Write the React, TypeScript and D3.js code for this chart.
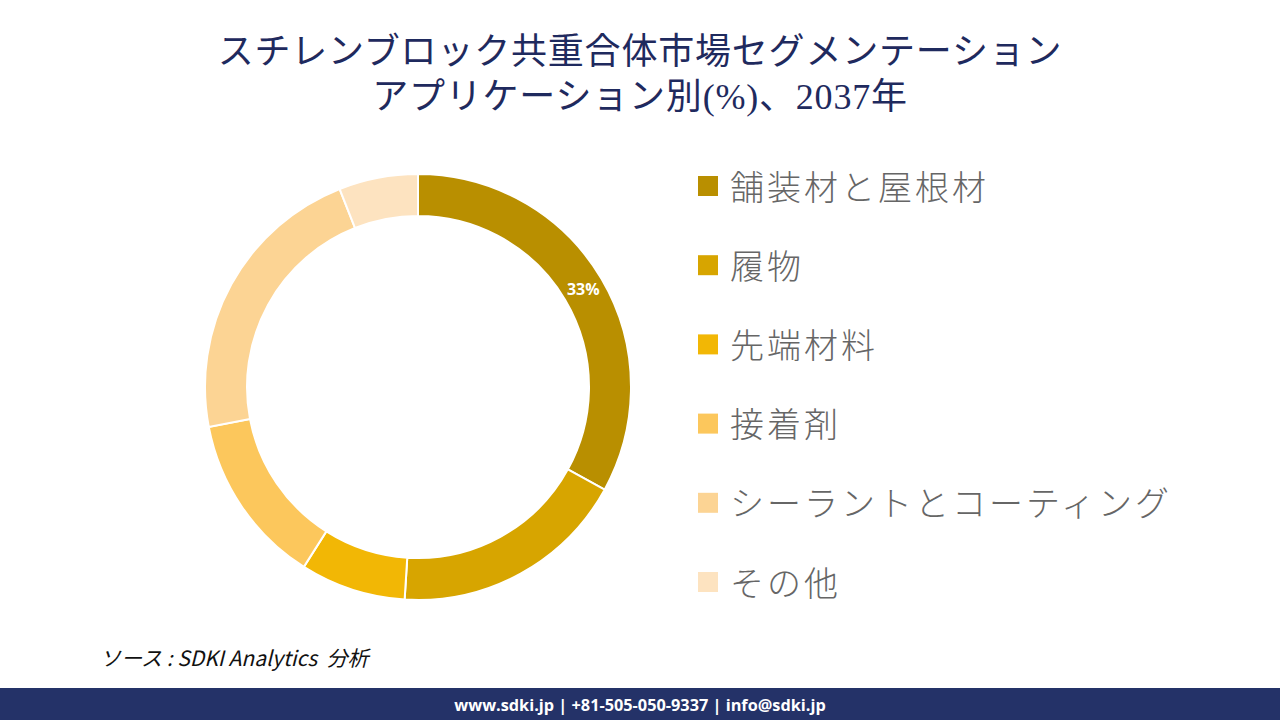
import React, { useRef, useEffect } from 'react';
import * as d3 from 'd3';

const categories = ['舗装材と屋根材', '履物', '先端材料', '接着剤', 'シーラントとコーティング', 'その他'];
const shares = [33, 18, 8, 13, 22, 6];
const colors = ['#B98F00', '#D7A500', '#F2B705', '#FCC75C', '#FCD494', '#FDE3C0'];
const titleLines = ['スチレンブロック共重合体市場セグメンテーション', 'アプリケーション別(%)、2037年'];

const App = () => {
    const chartRef = useRef<SVGSVGElement>(null);

    useEffect(() => {
        const svg = d3.select(chartRef.current);
        svg.selectAll('*').remove();

        const width = 1280;
        const height = 720;
        svg.attr('width', width).attr('height', height);

        svg.append('rect').attr('width', width).attr('height', height).attr('fill', '#ffffff');

        // title
        svg.append('g')
            .selectAll('text')
            .data(titleLines)
            .enter()
            .append('text')
            .attr('x', 640)
            .attr('y', (d, i) => 64 + i * 45)
            .attr('text-anchor', 'middle')
            .style('font-family', '"Liberation Serif", "Noto Sans CJK JP", serif')
            .style('font-size', '36px')
            .style('letter-spacing', '0.8px')
            .style('fill', '#1F2A5E')
            .text((d) => d);

        // donut
        const cx = 418;
        const cy = 387;
        const outer = 213;
        const inner = 171;

        const pie = d3.pie<number>().sort(null).value((d) => d);
        const arcs = pie(shares);
        const arc = d3.arc<d3.PieArcDatum<number>>().innerRadius(inner).outerRadius(outer);

        const g = svg.append('g').attr('transform', `translate(${cx},${cy})`);

        g.selectAll('path')
            .data(arcs)
            .enter()
            .append('path')
            .attr('d', arc)
            .attr('fill', (d, i) => colors[i])
            .attr('stroke', '#ffffff')
            .attr('stroke-width', 2);

        // only the largest slice is labelled
        const labelPos = arc.centroid(arcs[0]);
        g.append('text')
            .attr('x', labelPos[0])
            .attr('y', labelPos[1])
            .attr('text-anchor', 'middle')
            .attr('dominant-baseline', 'central')
            .style('font-family', '"Open Sans", sans-serif')
            .style('font-weight', 'bold')
            .style('font-size', '16px')
            .style('fill', '#ffffff')
            .text(`${shares[0]}%`);

        // legend
        const legendY = d3.scalePoint<string>().domain(categories).range([186, 582]);
        const legend = svg.append('g')
            .selectAll('g')
            .data(categories)
            .enter()
            .append('g')
            .attr('transform', (d) => `translate(698,${legendY(d)})`);

        legend.append('rect')
            .attr('x', 0)
            .attr('y', -10)
            .attr('width', 20)
            .attr('height', 20)
            .attr('fill', (d, i) => colors[i]);

        legend.append('text')
            .attr('x', 32)
            .attr('y', -1)
            .attr('dominant-baseline', 'central')
            .style('font-family', '"Noto Sans CJK JP", sans-serif')
            .style('font-weight', 300)
            .style('font-size', '34px')
            .style('letter-spacing', '3px')
            .style('fill', '#666666')
            .text((d) => d);

        // source
        svg.append('text')
            .attr('x', 100)
            .attr('y', 666)
            .style('font-family', '"Noto Sans CJK JP", "Open Sans", sans-serif')
            .style('font-style', 'italic')
            .style('font-size', '21px')
            .style('white-space', 'pre')
            .style('fill', '#111111')
            .text('ソース : SDKI Analytics  分析');

        // footer
        svg.append('rect')
            .attr('x', 0)
            .attr('y', 688)
            .attr('width', width)
            .attr('height', 32)
            .attr('fill', '#243268');

        svg.append('text')
            .attr('x', 640)
            .attr('y', 705)
            .attr('text-anchor', 'middle')
            .attr('dominant-baseline', 'central')
            .style('font-family', '"Open Sans", sans-serif')
            .style('font-weight', 'bold')
            .style('font-size', '16.3px')
            .style('fill', '#ffffff')
            .text('www.sdki.jp | +81-505-050-9337 | info@sdki.jp');
    }, []);

    return (
        <div style={{ position: 'absolute', left: 0, top: 0 }}>
            <svg ref={chartRef}></svg>
        </div>
    );
};

export default App;
